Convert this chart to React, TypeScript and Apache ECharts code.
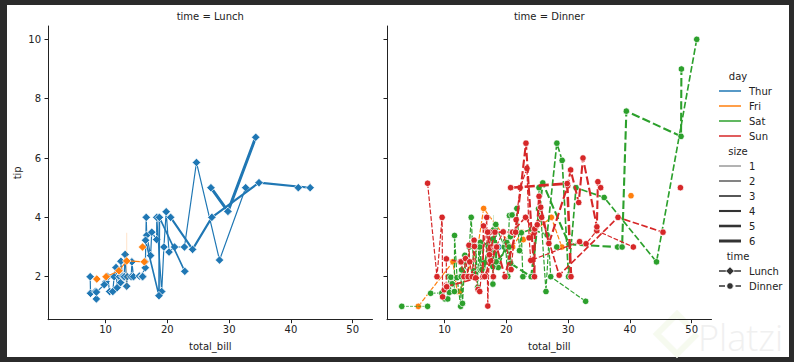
import React, { useEffect, useRef } from "react";
import * as echarts from "echarts";

// rows: [total_bill, tip, size]
const lunchThur: number[][] = [
  [27.2, 4.0, 4], [22.76, 3.0, 2], [17.29, 2.71, 2], [19.44, 3.0, 2], [16.66, 3.4, 2],
  [10.07, 1.83, 1], [32.68, 5.0, 2], [15.98, 2.03, 2], [34.83, 5.17, 4], [13.03, 2.0, 2],
  [18.28, 4.0, 2], [24.71, 5.85, 2], [21.16, 3.0, 2], [10.65, 1.5, 2], [12.43, 1.8, 2],
  [24.08, 2.92, 4], [11.69, 2.31, 2], [13.42, 1.68, 2], [14.26, 2.5, 2], [15.95, 2.0, 2],
  [12.48, 2.52, 2], [29.8, 4.2, 6], [8.52, 1.48, 2], [14.52, 2.0, 2], [11.38, 2.0, 2],
  [22.82, 2.18, 3], [19.08, 1.5, 2], [20.27, 2.83, 2], [11.17, 1.5, 2], [12.26, 2.0, 2],
  [18.26, 3.25, 2], [8.51, 1.25, 2], [10.33, 2.0, 2], [14.15, 2.0, 2], [16.0, 2.0, 2],
  [13.16, 2.75, 2], [17.47, 3.5, 2], [34.3, 6.7, 6], [41.19, 5.0, 5], [27.05, 5.0, 6],
  [16.43, 2.3, 2], [8.35, 1.5, 2], [18.64, 1.36, 3], [11.87, 1.63, 2], [9.78, 1.73, 2],
  [7.51, 2.0, 2], [19.81, 4.19, 2], [28.44, 2.56, 2], [15.48, 2.02, 2], [16.58, 4.0, 2],
  [7.56, 1.44, 2], [10.34, 2.0, 2], [43.11, 5.0, 4], [13.0, 2.0, 2], [13.51, 2.0, 2],
  [18.71, 4.0, 3], [12.74, 2.01, 2], [13.0, 2.0, 2], [16.4, 2.5, 2], [20.53, 4.0, 4],
  [16.47, 3.23, 3],
];
const lunchFri: number[][] = [
  [12.16, 2.2, 2], [13.42, 3.48, 2], [8.58, 1.92, 1], [15.98, 3.0, 3], [13.42, 1.58, 2],
  [16.27, 2.5, 2], [10.09, 2.0, 2],
];
const lunchSat: number[][] = [];
const lunchSun: number[][] = [];
const dinnerThur: number[][] = [[18.78, 3.0, 2]];
const dinnerFri: number[][] = [
  [28.97, 3.0, 2], [22.49, 3.5, 2], [5.75, 1.0, 2], [16.32, 4.3, 2], [22.75, 3.25, 2],
  [40.17, 4.73, 4], [27.28, 4.0, 2], [12.03, 1.5, 2], [21.01, 3.0, 2], [12.46, 1.5, 2],
  [11.35, 2.5, 2], [15.38, 3.0, 2],
];
const dinnerSat: number[][] = [
  [20.65, 3.35, 3], [17.92, 4.08, 2], [20.29, 2.75, 2], [15.77, 2.23, 2], [39.42, 7.58, 4],
  [19.82, 3.18, 2], [17.81, 2.34, 4], [13.37, 2.0, 2], [12.69, 2.0, 2], [21.7, 4.3, 2],
  [19.65, 3.0, 2], [9.55, 1.45, 2], [18.35, 2.5, 4], [15.06, 3.0, 2], [20.69, 2.45, 4],
  [17.78, 3.27, 2], [24.06, 3.6, 3], [16.31, 2.0, 3], [16.93, 3.07, 3], [18.69, 2.31, 3],
  [31.27, 5.0, 3], [16.04, 2.24, 3], [38.01, 3.0, 4], [26.41, 1.5, 2], [11.24, 1.76, 2],
  [48.27, 6.73, 4], [20.29, 3.21, 2], [13.81, 2.0, 2], [11.02, 1.98, 2], [18.29, 3.76, 4],
  [17.59, 2.64, 3], [20.08, 3.15, 3], [16.45, 2.47, 2], [3.07, 1.0, 1], [20.23, 2.01, 2],
  [15.01, 2.09, 2], [12.02, 1.97, 2], [17.07, 3.0, 3], [26.86, 3.14, 2], [25.28, 5.0, 2],
  [14.73, 2.2, 2], [10.51, 1.25, 2], [17.92, 3.08, 2], [44.3, 2.5, 3], [22.42, 3.48, 2],
  [20.92, 4.08, 2], [15.36, 1.64, 2], [20.49, 4.06, 2], [25.21, 4.29, 2], [18.24, 3.76, 2],
  [14.31, 4.0, 2], [14.0, 3.0, 2], [7.25, 1.0, 1], [10.59, 1.61, 2], [10.63, 2.0, 2],
  [50.81, 10.0, 3], [15.81, 3.16, 2], [26.59, 3.41, 3], [38.73, 3.0, 4], [24.27, 2.03, 2],
  [12.76, 2.23, 2], [30.06, 2.0, 3], [25.89, 5.16, 4], [48.33, 9.0, 4], [13.27, 2.5, 2],
  [28.17, 6.5, 3], [12.9, 1.1, 2], [28.15, 3.0, 5], [11.59, 1.5, 2], [7.74, 1.44, 2],
  [30.14, 3.09, 4], [20.45, 3.0, 4], [13.28, 2.72, 2], [22.12, 2.88, 2], [24.01, 2.0, 4],
  [15.69, 3.0, 3], [11.61, 3.39, 2], [10.77, 1.47, 2], [15.53, 3.0, 2], [10.07, 1.25, 2],
  [12.6, 1.0, 2], [32.83, 1.17, 2], [35.83, 4.67, 3], [29.03, 5.92, 3], [27.18, 2.0, 2],
  [22.67, 2.0, 2], [17.82, 1.75, 2],
];
const dinnerSun: number[][] = [
  [16.99, 1.01, 2], [10.34, 1.66, 3], [21.01, 3.5, 3], [23.68, 3.31, 2], [24.59, 3.61, 4],
  [25.29, 4.71, 4], [8.77, 2.0, 2], [26.88, 3.12, 4], [15.04, 1.96, 2], [14.78, 3.23, 2],
  [10.27, 1.71, 2], [35.26, 5.0, 4], [15.42, 1.57, 2], [18.43, 3.0, 4], [14.83, 3.02, 2],
  [21.58, 3.92, 2], [10.33, 1.67, 3], [16.29, 3.71, 3], [16.97, 3.5, 3], [17.46, 2.54, 2],
  [13.94, 3.06, 2], [9.68, 1.32, 2], [30.4, 5.6, 4], [18.29, 3.0, 2], [22.23, 5.0, 2],
  [32.4, 6.0, 4], [28.55, 2.05, 3], [18.04, 3.0, 2], [12.54, 2.5, 2], [10.29, 2.6, 2],
  [34.81, 5.2, 4], [9.94, 1.56, 2], [25.56, 4.34, 4], [19.49, 3.51, 2], [38.07, 4.0, 3],
  [23.95, 2.55, 2], [25.71, 4.0, 3], [17.31, 3.5, 2], [29.93, 5.07, 4], [14.07, 2.5, 2],
  [13.13, 2.0, 2], [17.26, 2.74, 3], [24.55, 2.0, 4], [19.77, 2.0, 4], [29.85, 5.14, 5],
  [48.17, 5.0, 6], [25.0, 3.75, 4], [13.39, 2.61, 2], [16.49, 2.0, 4], [21.5, 3.5, 4],
  [12.66, 2.5, 2], [16.21, 2.0, 3], [13.81, 2.0, 2], [17.51, 3.0, 2], [24.52, 3.48, 3],
  [20.76, 2.24, 2], [31.71, 4.5, 4], [7.25, 5.15, 2], [31.85, 3.18, 2], [16.82, 4.0, 2],
  [32.9, 3.11, 2], [17.89, 2.0, 2], [14.48, 2.0, 2], [9.6, 4.0, 2], [34.63, 3.55, 2],
  [34.65, 3.68, 4], [23.33, 5.65, 2], [45.35, 3.5, 3], [23.17, 6.5, 4], [40.55, 3.0, 2],
  [20.69, 5.0, 5], [20.9, 3.5, 3], [30.46, 2.0, 5], [18.15, 3.5, 3], [23.1, 4.0, 3],
  [15.69, 1.5, 2],
];

const days = ["Thur", "Fri", "Sat", "Sun"];
const dayColors = ["#1f77b4", "#ff7f0e", "#2ca02c", "#d62728"];
const sizeLevels = [1, 2, 3, 4, 5, 6];
const times = ["Lunch", "Dinner"];
const xTicks = [10, 20, 30, 40, 50];
const yTicks = [2, 4, 6, 8, 10];

const panelData = [
  [lunchThur, lunchFri, lunchSat, lunchSun],
  [dinnerThur, dinnerFri, dinnerSat, dinnerSun],
];

const FONT = '"DejaVu Sans", sans-serif';
const INK = "#222";
const GRID_TOP = 26;
const GRID_H = 293.7;
const GRID_W = 324.5;
const GRID_LEFTS = [48, 387];

const lw = (s: number) => 0.75 + ((s - 1) / 5) * 2.25;

function buildSeries() {
  const series: any[] = [];
  let z = 10;
  panelData.forEach((byDay, pi) => {
    byDay.forEach((rows, di) => {
      const color = dayColors[di];
      sizeLevels.forEach((s) => {
        const sub = rows.filter((r) => r[2] === s);
        if (!sub.length) return;
        const m = new Map<number, number[]>();
        sub.forEach((r) => {
          if (!m.has(r[0])) m.set(r[0], []);
          m.get(r[0])!.push(r[1]);
        });
        const xs = Array.from(m.keys()).sort((a, b) => a - b);
        const w = lw(s);
        xs.forEach((x) => {
          const v = m.get(x)!;
          if (v.length > 1) {
            const lo = Math.min(...v);
            const hi = Math.max(...v);
            if (hi > lo) {
              series.push({
                type: "line",
                xAxisIndex: pi,
                yAxisIndex: pi,
                data: [[x, lo], [x, hi]],
                symbol: "none",
                silent: true,
                lineStyle: { color, width: 1, opacity: 0.22 },
                z: z++,
              });
            }
          }
        });
        const pts = xs.map((x) => {
          const v = m.get(x)!;
          return [x, v.reduce((a, b) => a + b, 0) / v.length];
        });
        series.push({
          type: "line",
          name: `${times[pi]}-${days[di]}-${s}`,
          xAxisIndex: pi,
          yAxisIndex: pi,
          data: pts,
          symbol: pi === 0 ? "diamond" : "circle",
          symbolSize: pi === 0 ? 8.5 : 6.5,
          showSymbol: true,
          silent: true,
          lineStyle: {
            color,
            width: w,
            type: pi === 0 ? "solid" : [4 * w, 1.5 * w],
          },
          itemStyle: { color, borderColor: "#ffffff", borderWidth: 0.75 },
          z: z++,
        });
      });
    });
  });
  return series;
}

function buildGraphic() {
  const els: any[] = [];
  els.push({
    type: "rect",
    z: -10,
    shape: { x: 7, y: 5, width: 782, height: 352 },
    style: { fill: "#ffffff" },
    silent: true,
  });
  const txt = (text: string, x: number, y: number, align = "center", extra: any = {}) => ({
    type: "text",
    x,
    y,
    silent: true,
    ...extra,
    style: {
      text,
      fill: INK,
      font: `10px ${FONT}`,
      align,
      verticalAlign: "middle",
    },
  });
  // facet titles and axis labels
  times.forEach((t, i) => {
    const cx = GRID_LEFTS[i] + GRID_W / 2;
    els.push(txt(`time = ${t}`, cx, 16));
    els.push(txt("total_bill", cx, 346));
  });
  els.push(txt("tip", 17, GRID_TOP + GRID_H / 2, "center", { rotation: Math.PI / 2 }));

  // legend
  const lx1 = 719, lx2 = 741, tx = 749, tcx = 738;
  let y = 76;
  els.push(txt("day", tcx, y));
  days.forEach((d, i) => {
    y += 15;
    els.push({ type: "line", silent: true, shape: { x1: lx1, y1: y, x2: lx2, y2: y }, style: { stroke: dayColors[i], lineWidth: 1.5 } });
    els.push(txt(d, tx, y, "left"));
  });
  y += 15;
  els.push(txt("size", tcx, y));
  sizeLevels.forEach((s) => {
    y += 15;
    els.push({ type: "line", silent: true, shape: { x1: lx1, y1: y, x2: lx2, y2: y }, style: { stroke: "#333333", lineWidth: lw(s) } });
    els.push(txt(String(s), tx, y, "left"));
  });
  y += 15;
  els.push(txt("time", tcx, y));
  // Lunch
  y += 15;
  els.push({ type: "line", silent: true, shape: { x1: lx1, y1: y, x2: lx2, y2: y }, style: { stroke: "#333333", lineWidth: 1.5 } });
  const cx = (lx1 + lx2) / 2;
  els.push({
    type: "polygon",
    silent: true,
    shape: { points: [[cx, y - 4.25], [cx + 4.25, y], [cx, y + 4.25], [cx - 4.25, y]] },
    style: { fill: "#333333", stroke: "#ffffff", lineWidth: 0.75 },
  });
  els.push(txt("Lunch", tx, y, "left"));
  // Dinner
  y += 15;
  els.push({ type: "line", silent: true, shape: { x1: lx1, y1: y, x2: lx2, y2: y }, style: { stroke: "#333333", lineWidth: 1.5, lineDash: [6, 2.25] } });
  els.push({
    type: "circle",
    silent: true,
    shape: { cx, cy: y, r: 3.25 },
    style: { fill: "#333333", stroke: "#ffffff", lineWidth: 0.75 },
  });
  els.push(txt("Dinner", tx, y, "left"));

  // watermark
  els.push({
    type: "polyline",
    silent: true,
    shape: { points: [[688, 325], [677, 314], [657, 334], [677, 354], [697, 334]] },
    style: { stroke: "#f6faef", lineWidth: 6, fill: null },
  });
  els.push({
    type: "text",
    x: 698,
    y: 337,
    silent: true,
    style: { text: "Platzi", fill: "#f0f0f0", font: `300 36px "Open Sans", sans-serif`, align: "left", verticalAlign: "middle" },
  });
  return els;
}

const axisLineStyle = { color: INK, width: 1 };

function buildOption() {
  return {
    animation: false,
    backgroundColor: "#2b2b2b",
    grid: GRID_LEFTS.map((left) => ({ left, top: GRID_TOP, width: GRID_W, height: GRID_H, containLabel: false })),
    xAxis: [0, 1].map((i) => ({
      type: "value",
      gridIndex: i,
      min: 0.68,
      max: 53.2,
      axisLine: { show: true, onZero: false, lineStyle: axisLineStyle },
      axisTick: { show: true, length: 3.5, customValues: xTicks, lineStyle: axisLineStyle },
      axisLabel: { show: true, customValues: xTicks, color: INK, fontSize: 10, fontFamily: FONT, margin: 5 },
      splitLine: { show: false },
    })),
    yAxis: [0, 1].map((i) => ({
      type: "value",
      gridIndex: i,
      min: 0.55,
      max: 10.45,
      axisLine: { show: true, onZero: false, lineStyle: axisLineStyle },
      axisTick: { show: true, length: 3.5, customValues: yTicks, lineStyle: axisLineStyle },
      axisLabel: { show: i === 0, customValues: yTicks, color: INK, fontSize: 10, fontFamily: FONT, margin: 7 },
      splitLine: { show: false },
    })),
    series: buildSeries(),
    graphic: { elements: buildGraphic() },
  };
}

export default function App() {
  const ref = useRef<HTMLDivElement>(null);
  useEffect(() => {
    if (!ref.current) return;
    const chart = echarts.init(ref.current, null, { renderer: "svg" });
    chart.setOption(buildOption() as any);
    return () => chart.dispose();
  }, []);
  return (
    <div style={{ position: "absolute", left: 0, top: 0, width: 794, height: 362, background: "#2b2b2b" }}>
      <div ref={ref} style={{ width: 794, height: 362 }} />
    </div>
  );
}
